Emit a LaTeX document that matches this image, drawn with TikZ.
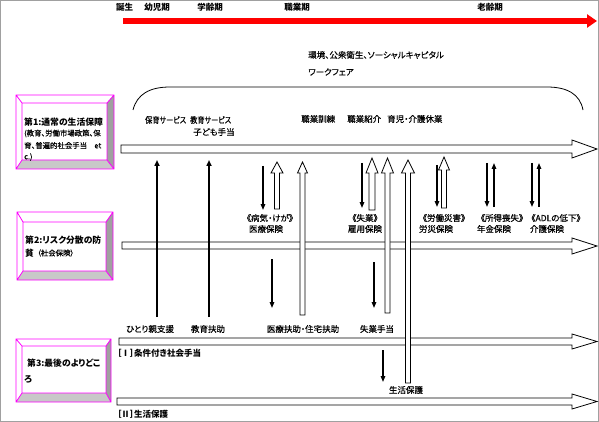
\documentclass[tikz,border=0pt]{standalone}
\usepackage{fontspec}
\setmainfont{Noto Sans CJK JP}[RawFeature=+palt]
\newfontfamily\jpr{Noto Sans CJK JP}[RawFeature=+palt, FakeBold=0.4]
\newfontfamily\jpn{Noto Sans CJK JP}[RawFeature=+palt, FakeBold=0.4, FakeStretch=0.84]
\usetikzlibrary{arrows.meta}
\definecolor{mag}{HTML}{FF00FF}
\definecolor{bevR}{HTML}{A0A0A0}
\definecolor{bevB}{HTML}{C8C8C8}
\definecolor{framegray}{HTML}{A0A0A0}
% big hollow row arrow: x0, top, bottom, head top, head bottom
\newcommand\bigrow[5]{%
  \draw[band] (#1,#2) -- (572,#2) -- (572,#4) -- (597,{(#4+#5)/2}) -- (572,#5) -- (572,#3) -- (#1,#3) -- cycle;}
% hollow vertical up arrow: x, bottom, tip, head base, half shaft, half head
\newcommand\hup[6]{%
  \draw[hollow] ({#1-#5},#2) -- ({#1-#5},#4) -- ({#1-#6},#4) -- (#1,#3) -- ({#1+#6},#4) -- ({#1+#5},#4) -- ({#1+#5},#2) -- cycle;}
% solid arrow between two named coordinates
\newcommand\sarr[5]{% name, x, from y, to y, style
  \coordinate (#1s) at (#2,#3); \coordinate (#1e) at (#2,#4);
  \draw[#5] (#1s) -- (#1e);}
% bevelled box
\newcommand\bevel[8]{%
  \fill[white] (#1,#2) -- (#3,#2) -- (#7,#6) -- (#5,#6) -- cycle;
  \fill[bevR] (#3,#2) -- (#3,#4) -- (#7,#8) -- (#7,#6) -- cycle;
  \fill[bevB] (#1,#4) -- (#3,#4) -- (#7,#8) -- (#5,#8) -- cycle;
  \draw[mag, line width=0.8pt] (#1,#2) rectangle (#3,#4) (#5,#6) rectangle (#7,#8)
     (#1,#2) -- (#5,#6) (#3,#2) -- (#7,#6) (#3,#4) -- (#7,#8) (#1,#4) -- (#5,#8);}
\begin{document}
\begin{tikzpicture}[x=1pt,y=-1pt,
  lbl/.style={inner sep=0pt, font=\jpr\fontsize{8.5}{10}\selectfont},
  nlbl/.style={inner sep=0pt, font=\jpn\fontsize{8.5}{10}\selectfont},
  blbl/.style={inner sep=0pt, font=\fontsize{8.5}{10}\selectfont\bfseries},
  hdr/.style={inner sep=0pt, font=\fontsize{8.8}{10}\selectfont\bfseries},
  sml/.style={inner sep=0pt, font=\jpr\fontsize{7.4}{9}\selectfont},
  band/.style={draw=black, fill=white, line width=0.8pt},
  hollow/.style={draw=black, fill=white, line width=0.8pt},
  thick up/.style={line width=1.8pt, -{Triangle[length=6pt,width=5pt]}},
  thin arr/.style={line width=1.4pt, -{Triangle[length=6pt,width=4.5pt]}}]
\useasboundingbox (0,0) rectangle (599,422);
\draw[framegray, line width=1pt] (0.5,0.5) rectangle (598,421.5);

% life stages
\node[blbl] (t0) at (124.5,7.5) {誕生};
\node[blbl] (t1) at (157,7.5) {幼児期};
\node[blbl] (t2) at (210,7.5) {学齢期};
\node[blbl] (t3) at (297,7.5) {職業期};
\node[blbl] (t4) at (490,7.5) {老齢期};
\coordinate (rs) at (123,21); \coordinate (re) at (597,21);
\draw[red, line width=6pt, -{Triangle[length=10pt,width=13pt]}] (rs) -- (re);

\node[lbl, anchor=west] (env1) at (308,55) {環境、公衆衛生、ソーシャルキャピタル};
\node[lbl, anchor=west] (env2) at (308,72) {ワークフェア};

% brace
\draw[line width=0.8pt] (133,110) .. controls (137,94) and (150,87) .. (170,87) -- (547,87)
   .. controls (567,87) and (580,94) .. (583,110);

\node[nlbl, anchor=west] (hoiku) at (145,120) {保育サービス};
\node[nlbl, anchor=west] (kyoiku) at (190,120) {教育サービス};
\node[lbl, anchor=west] (kodomo) at (193,132) {子ども手当};
\node[lbl, anchor=west] (kunren) at (301,119) {職業訓練};
\node[lbl, anchor=west] (shokai) at (347,119) {職業紹介};
\node[lbl, anchor=west] (ikuji) at (387,119) {育児・介護休業};

% rows
\bigrow{121}{145}{153}{140}{158}
\bigrow{122}{242}{249}{238}{254}
\bigrow{119}{338}{345}{334}{349}
\bigrow{117}{398}{405}{394}{409}

% boxes
\bevel{16}{95}{114}{169}{22}{103}{107}{160}
\bevel{17}{212}{113}{280}{23}{222}{106}{271}
\bevel{16}{339}{111}{402}{22}{346}{106}{393}
\node[hdr, anchor=west] (b1a) at (24,122) {第1:通常の生活保障};
\node[sml, anchor=west] (b1b) at (24,133.5) {(教育、労働市場政策、保};
\node[sml, anchor=west] (b1c) at (24,145.5) {育、普遍的社会手当　et};
\node[sml, anchor=west] (b1d) at (24,157) {c.)};
\node[hdr, anchor=west] (b2a) at (25,240) {第2:リスク分散の防};
\node[hdr, anchor=west] (b2b) at (25,253) {貧};
\node[sml, anchor=west] (b2c) at (37,253) {（社会保険）};
\node[hdr, anchor=west] (b3a) at (27,363) {第3:最後のよりどこ};
\node[hdr, anchor=west] (b3b) at (24,379) {ろ};

% insurance labels
\node[lbl] (byoki) at (270,218) {《病気・けが》};
\node[lbl] (iryo) at (266,229) {医療保険};
\node[lbl] (shitsu) at (365,218) {《失業》};
\node[lbl] (koyo) at (365,229) {雇用保険};
\node[lbl] (rosai1) at (444,218) {《労働災害》};
\node[lbl] (rosai2) at (436,229) {労災保険};
\node[lbl] (shotoku) at (502,218) {《所得喪失》};
\node[lbl] (nenkin) at (494,229) {年金保険};
\node[lbl] (adl) at (556,218) {《ADLの低下》};
\node[lbl] (kaigo) at (547,229) {介護保険};

% assistance labels
\node[lbl] (hitori) at (150,329) {ひとり親支援};
\node[lbl] (kyofu) at (208,329) {教育扶助};
\node[lbl] (iryofu) at (303,329) {医療扶助・住宅扶助};
\node[lbl] (shteate) at (377,329) {失業手当};
\node[lbl] (seiho) at (406,390) {生活保護};
\node[blbl, anchor=west] (jouken) at (117,353) {［Ⅰ］条件付き社会手当};
\node[blbl, anchor=west] (seikatsu) at (117,414) {［Ⅱ］生活保護};

% solid arrows
\sarr{aA}{157}{317}{160}{thick up}
\sarr{aB}{209}{317}{160}{thick up}
\sarr{aC}{263}{166}{210}{thin arr}
\sarr{aD}{272}{259}{308}{thin arr}
\sarr{aE}{362}{163}{208}{thin arr}
\sarr{aF}{374}{262}{308}{thin arr}
\sarr{aG}{383}{350}{382}{thin arr}
\sarr{aH}{437}{165}{207}{thin arr}
\sarr{aI}{487}{163}{207}{thin arr}
\sarr{aJ}{494}{207}{163}{thin arr}
\sarr{aK}{532}{163}{207}{thin arr}
\sarr{aL}{539}{207}{163}{thin arr}

% hollow arrows
\hup{277}{209}{162}{173}{2.5}{6}
\hup{302.5}{315}{162}{173}{2.5}{5}
\hup{372}{210}{158}{173}{3}{6}
\hup{387.5}{313}{158}{173}{2.5}{6}
\hup{408}{383}{160}{173}{2.5}{6.5}
\hup{444}{208}{157}{170}{2.5}{5.5}
\end{tikzpicture}
\end{document}
